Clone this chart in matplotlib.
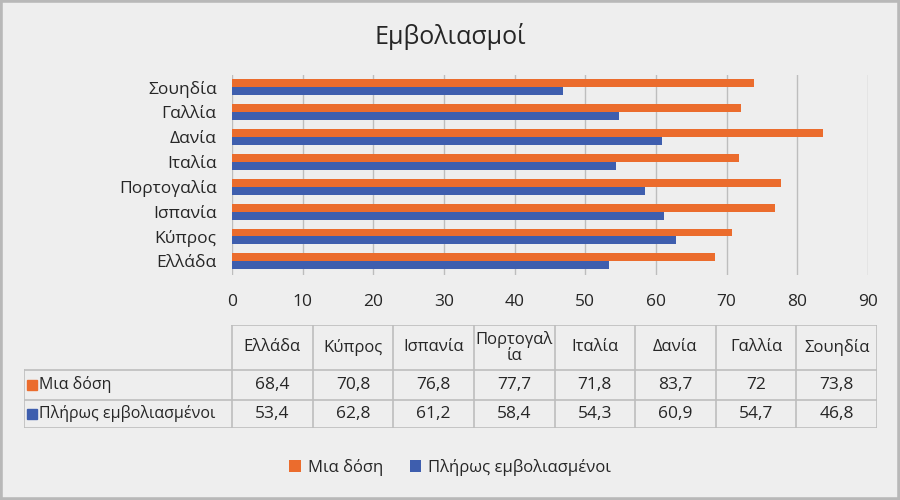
import matplotlib
matplotlib.use("Agg")
import matplotlib.pyplot as plt
from matplotlib.patches import Rectangle, Patch

plt.rcParams["font.family"] = ["Open Sans", "DejaVu Sans"]

# data
countries = ["Ελλάδα", "Κύπρος", "Ισπανία", "Πορτογαλία", "Ιταλία", "Δανία", "Γαλλία", "Σουηδία"]
table_headers = ["Ελλάδα", "Κύπρος", "Ισπανία", "Πορτογαλ\nία", "Ιταλία", "Δανία", "Γαλλία", "Σουηδία"]
one_dose = [68.4, 70.8, 76.8, 77.7, 71.8, 83.7, 72, 73.8]
fully = [53.4, 62.8, 61.2, 58.4, 54.3, 60.9, 54.7, 46.8]
series_names = ["Μια δόση", "Πλήρως εμβολιασμένοι"]
x_ticks = [0, 10, 20, 30, 40, 50, 60, 70, 80, 90]

ORANGE = "#EB6C2D"
BLUE = "#3E5EAE"
BG = "#EEEEEE"
GRID = "#BDBDBD"
TXT = "#262626"

fig = plt.figure(figsize=(9, 5), dpi=100, facecolor=BG)
fig.patches.append(Rectangle((0, 0), 1, 1, transform=fig.transFigure,
                             fill=False, edgecolor="#B8B8B8", linewidth=4))

# bar chart
ax = fig.add_axes([232 / 900, 1 - 275 / 500, 636 / 900, 200 / 500])
ax.set_facecolor(BG)
pos = list(range(len(countries)))
h = 0.32
ax.barh([p + h / 2 for p in pos], one_dose, height=h, color=ORANGE, zorder=3)
ax.barh([p - h / 2 for p in pos], fully, height=h, color=BLUE, zorder=3)
ax.set_xlim(0, 90)
ax.set_ylim(-0.55, 7.5)
ax.set_xticks(x_ticks)
ax.set_yticks(pos)
ax.set_yticklabels(countries)
ax.grid(axis="x", color=GRID, linewidth=1, zorder=0)
for s in ax.spines.values():
    s.set_visible(False)
ax.tick_params(length=0, labelsize=12.5, colors=TXT)
ax.tick_params(axis="y", pad=11)
ax.tick_params(axis="x", pad=14)

fig.text(0.5, 1 - 37 / 500, "Εμβολιασμοί", ha="center", va="center",
         fontsize=18, color=TXT)

# data table
tx = fig.add_axes([24 / 900, 1 - 428 / 500, (877 - 24) / 900, 103 / 500])
tx.set_facecolor(BG)
tx.axis("off")
label_w = 2.58
ncol = len(table_headers)
row_edges = [0, 1.5, 2.5, 3.45]
tx.set_xlim(-label_w, ncol)
tx.set_ylim(row_edges[-1], 0)
line_kw = dict(color="#BDBDBD", linewidth=1.2)

# horizontal lines
tx.plot([0, ncol], [0, 0], **line_kw)
for y in row_edges[1:]:
    tx.plot([-label_w, ncol], [y, y], **line_kw)
# vertical lines
tx.plot([-label_w, -label_w], [row_edges[1], row_edges[-1]], **line_kw)
for c in range(ncol + 1):
    tx.plot([c, c], [0, row_edges[-1]], **line_kw)

for c, name in enumerate(table_headers):
    tx.text(c + 0.5, row_edges[1] / 2, name, ha="center", va="center",
            fontsize=12, color=TXT, linespacing=0.95)
for r, (vals, label, col) in enumerate(zip([one_dose, fully], series_names, [ORANGE, BLUE])):
    yc = (row_edges[r + 1] + row_edges[r + 2]) / 2
    tx.plot([-label_w + 0.095], [yc], marker="s", markersize=7, color=col, linestyle="none")
    tx.text(-label_w + 0.19, yc, label, ha="left", va="center", fontsize=11.5, color=TXT)
    for c, v in enumerate(vals):
        tx.text(c + 0.5, yc, f"{v:g}".replace(".", ","), ha="center", va="center",
                fontsize=12.5, color=TXT)

# legend
handles = [Patch(facecolor=ORANGE), Patch(facecolor=BLUE)]
fig.legend(handles, series_names, loc="center", bbox_to_anchor=(0.5, 1 - 467 / 500),
           ncol=2, frameon=False, fontsize=12, handlelength=0.7, handleheight=0.7,
           handletextpad=0.4, columnspacing=1.6, labelcolor=TXT)

fig.savefig("out.png", dpi=100, facecolor=BG)
